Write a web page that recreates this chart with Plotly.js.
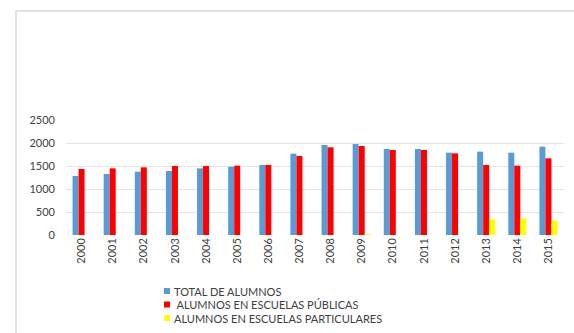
<!DOCTYPE html>
<html><head><meta charset="utf-8">
<script src="https://cdn.plot.ly/plotly-3.0.1.min.js"></script>
<style>html,body{margin:0;padding:0;background:#fff;}#chart{width:574px;height:333px;}</style>
</head><body><div id="chart"></div>
<script>
const years = ["2000","2001","2002","2003","2004","2005","2006","2007","2008","2009","2010","2011","2012","2013","2014","2015"];
const total = [1283,1326,1377,1391,1449,1485,1522,1768,1957,1978,1870,1870,1790,1812,1790,1920];
const publicas = [1435,1449,1471,1500,1500,1507,1522,1717,1906,1935,1848,1848,1775,1522,1507,1667];
const particulares = [0,0,0,0,0,0,0,0,0,20,0,0,0,340,362,312];
const names = ["TOTAL DE ALUMNOS"," ALUMNOS EN ESCUELAS PÚBLICAS","ALUMNOS EN ESCUELAS PARTICULARES"];
const colors = ["#5B9BD5","#FF0000","#FFFF00"];
const series = [total, publicas, particulares];
const data = series.map((v,i)=>({type:"bar", x:years, y:v, name:names[i], marker:{color:colors[i]}}));

const L=66, R=10, T=120, B=98, W=574, H=333;
const pw = W-L-R, ph = H-T-B;
const px = x => (x-L)/pw;
const py = y => (H-B-y)/ph;

const shapes = [{type:"rect", xref:"paper", yref:"paper", x0:px(16), x1:px(600), y0:py(400), y1:py(11), line:{color:"#e2e2e2", width:2}, fillcolor:"rgba(0,0,0,0)", layer:"below"}];
const annotations = [];
const rowY = [291, 304.5, 318];
names.forEach((n,i)=>{
  shapes.push({type:"rect", xref:"paper", yref:"paper", x0:px(164), x1:px(170), y0:py(rowY[i]+3), y1:py(rowY[i]-3), line:{width:0}, fillcolor:colors[i]});
  annotations.push({xref:"paper", yref:"paper", x:px(172), y:py(rowY[i]), xanchor:"left", yanchor:"middle", text:n, showarrow:false, font:{size:11, color:"#404040"}});
});

const layout = {
  width:W, height:H,
  margin:{l:L, r:R, t:T, b:B},
  paper_bgcolor:"#fff", plot_bgcolor:"#fff",
  font:{family:"Lato, 'Liberation Sans', sans-serif", size:11, color:"#404040"},
  barmode:"group", bargap:0.42, bargroupgap:0,
  xaxis:{type:"category", tickangle:-90, automargin:false, showgrid:false, zeroline:false, showline:false, ticks:"", tickfont:{size:11,color:"#404040"}},
  yaxis:{range:[0,2500], dtick:500, automargin:false, showgrid:true, gridcolor:"#e4e4e4", zeroline:false, showline:false, ticks:"", ticklabelstandoff:10, tickfont:{size:11,color:"#404040"}},
  showlegend:false,
  shapes:shapes, annotations:annotations
};
Plotly.newPlot("chart", data, layout, {displayModeBar:false, staticPlot:true});
</script></body></html>
